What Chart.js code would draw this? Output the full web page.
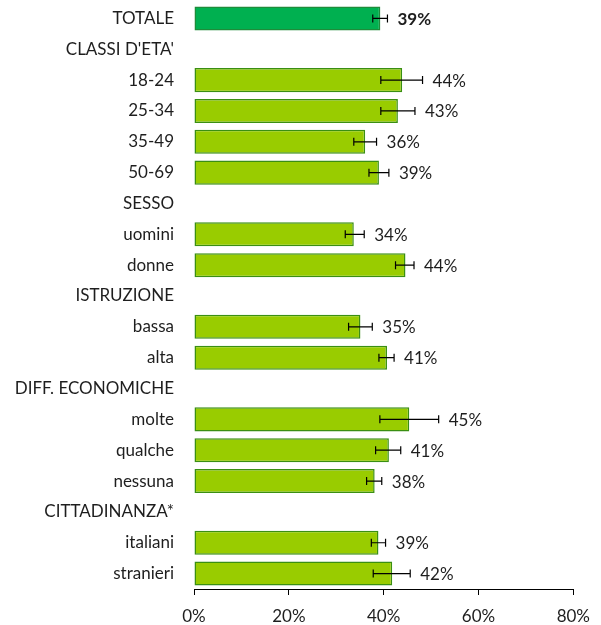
<!DOCTYPE html>
<html>
<head>
<meta charset="utf-8">
<script src="https://cdn.jsdelivr.net/npm/chart.js@4"></script>
<style>
  html, body { margin: 0; padding: 0; background: #fff; }
  #wrap { width: 601px; height: 625px; }
</style>
</head>
<body>
<div id="wrap"><canvas id="chart" width="601" height="625"></canvas></div>
<script>
const categories = ['TOTALE', "CLASSI D'ETA'", '18-24', '25-34', '35-49', '50-69', 'SESSO', 'uomini', 'donne',
  'ISTRUZIONE', 'bassa', 'alta', 'DIFF. ECONOMICHE', 'molte', 'qualche', 'nessuna', 'CITTADINANZA*', 'italiani', 'stranieri'];
const values = [39.3, null, 43.9, 43.0, 36.1, 39.0, null, 33.7, 44.6, null, 35.1, 40.7, null, 45.4, 41.1, 38.1, null, 38.9, 41.8];
const errLow = [37.7, null, 39.4, 39.4, 33.7, 36.9, null, 31.9, 42.5, null, 32.6, 39.0, null, 39.2, 38.3, 36.4, null, 37.4, 37.8];
const errHigh = [40.8, null, 48.2, 46.6, 38.5, 41.1, null, 35.9, 46.4, null, 37.6, 42.2, null, 51.6, 43.6, 39.6, null, 40.4, 45.6];
const valueLabels = ['39%', '', '44%', '43%', '36%', '39%', '', '34%', '44%', '', '35%', '41%', '', '45%', '41%', '38%', '', '39%', '42%'];
const xTicks = [0, 20, 40, 60, 80];

const FONT = 'Lato, "Open Sans", sans-serif';
const TEXT = '#1e1e1e';

// error bars + value labels
const extras = {
  id: 'extras',
  afterDatasetsDraw(chart) {
    const ctx = chart.ctx;
    const xs = chart.scales.x;
    const meta = chart.getDatasetMeta(0);
    ctx.save();
    meta.data.forEach((bar, i) => {
      if (values[i] == null) return;
      const y = bar.y;
      const x1 = xs.getPixelForValue(errLow[i]);
      const x2 = xs.getPixelForValue(errHigh[i]);
      ctx.strokeStyle = '#000';
      ctx.lineWidth = 1.2;
      ctx.beginPath();
      ctx.moveTo(x1, y); ctx.lineTo(x2, y);
      ctx.moveTo(x1, y - 4); ctx.lineTo(x1, y + 4);
      ctx.moveTo(x2, y - 4); ctx.lineTo(x2, y + 4);
      ctx.stroke();

      ctx.fillStyle = TEXT;
      ctx.font = (i === 0 ? 'bold ' : '') + '17px ' + FONT;
      ctx.textAlign = 'left';
      ctx.textBaseline = 'middle';
      ctx.fillText(valueLabels[i], Math.max(x2, bar.x) + 10, y + 1);
    });
    ctx.restore();
  }
};

new Chart(document.getElementById('chart').getContext('2d'), {
  type: 'bar',
  data: {
    labels: categories,
    datasets: [{
      data: values,
      backgroundColor: categories.map((c, i) => i === 0 ? '#00B050' : '#99CC00'),
      borderColor: categories.map((c, i) => i === 0 ? '#1E8C3A' : '#3A8F12'),
      borderWidth: 1.5,
      borderSkipped: false,
      categoryPercentage: 1,
      barPercentage: 0.78
    }]
  },
  options: {
    indexAxis: 'y',
    responsive: false,
    animation: false,
    layout: { padding: { top: 3, right: 27, left: 0, bottom: 0 } },
    plugins: { legend: { display: false }, tooltip: { enabled: false } },
    scales: {
      x: {
        min: 0,
        max: 80,
        afterBuildTicks: s => { s.ticks = xTicks.map(v => ({ value: v })); },
        afterFit: s => { s.height = 36; s.paddingTop = 0; s.paddingBottom = 0; },
        grid: { drawOnChartArea: false, drawTicks: true, tickLength: 6, color: '#000', lineWidth: 1 },
        border: { display: true, color: '#000', width: 1 },
        ticks: {
          color: TEXT,
          font: { family: FONT, size: 17 },
          padding: 11,
          maxRotation: 0,
          callback: v => v + '%'
        }
      },
      y: {
        afterFit: s => { s.width = 194; s.paddingTop = 0; s.paddingBottom = 0; },
        grid: { display: false, drawTicks: false },
        border: { display: false },
        ticks: {
          color: TEXT,
          font: { family: FONT, size: 17 },
          padding: 20,
          autoSkip: false
        }
      }
    }
  },
  plugins: [extras]
});
</script>
</body>
</html>
